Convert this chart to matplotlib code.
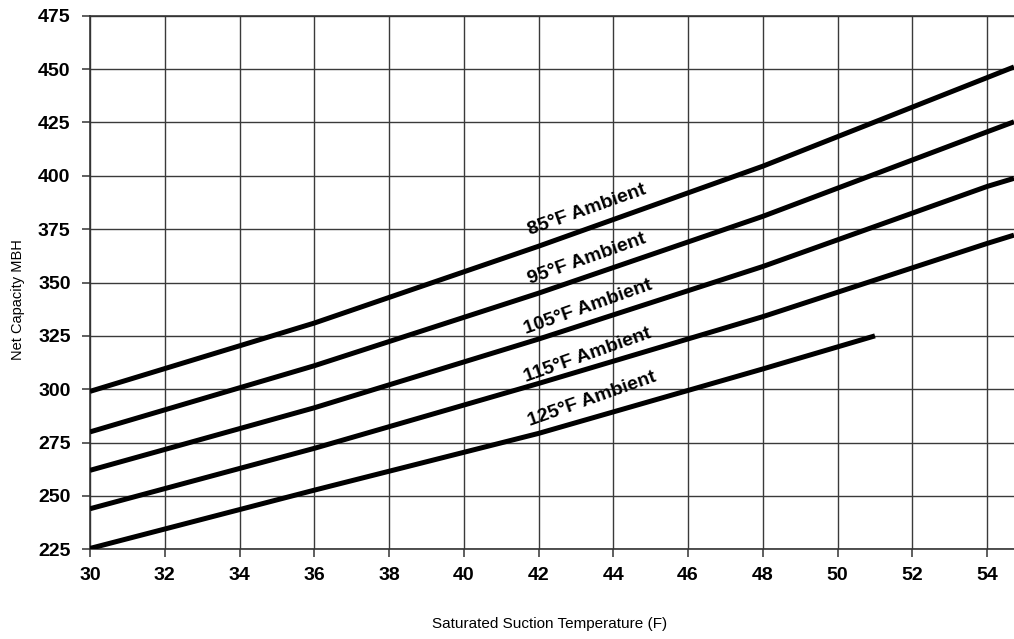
import matplotlib
matplotlib.use("Agg")
import matplotlib.pyplot as plt

plt.rcParams['font.family'] = ['Liberation Sans', 'DejaVu Sans']

# Data
x_full = [30, 36, 42, 48, 54, 54.72]
cap_85 = [299, 331, 367, 404.5, 446, 451]
cap_95 = [280, 311, 345, 381, 420.6, 425.3]
cap_105 = [262, 291.3, 323.5, 357.5, 395, 398.8]
cap_115 = [244, 272.3, 302.7, 334, 368.3, 372.2]
x_125 = [30, 36, 42, 48, 51]
cap_125 = [225.4, 252.7, 279.3, 309.5, 325]

labels = ["85°F Ambient", "95°F Ambient", "105°F Ambient", "115°F Ambient", "125°F Ambient"]
label_x = [43.29, 43.29, 43.32, 43.32, 43.42]
label_y = [383.9, 361.0, 338.5, 316.0, 295.4]

x_ticks = list(range(30, 55, 2))
y_ticks = list(range(225, 476, 25))

fig = plt.figure(figsize=(10.14, 6.39), dpi=100)
ax = fig.add_axes([0.0888, 0.1404, 0.9112, 0.835])

series = [(x_full, cap_85), (x_full, cap_95), (x_full, cap_105),
          (x_full, cap_115), (x_125, cap_125)]
for xs, ys in series:
    ax.plot(xs, ys, color='black', lw=3.6, solid_capstyle='butt',
            solid_joinstyle='round', zorder=3)

for t, lx, ly in zip(labels, label_x, label_y):
    ax.text(lx, ly, t, rotation=19.5, ha='center', va='center',
            fontsize=14, fontweight='bold', rotation_mode='anchor', zorder=4)

ax.set_xlim(30, 54.72)
ax.set_ylim(225, 475)
ax.set_xticks(x_ticks)
ax.set_yticks(y_ticks)
ax.set_xticklabels([str(v) for v in x_ticks], fontsize=14, fontweight='bold')
ax.set_yticklabels([str(v) for v in y_ticks], fontsize=14, fontweight='bold')
ax.tick_params(axis='both', direction='out', length=6, width=1.1, color='#333333')
ax.tick_params(axis='x', pad=7)
ax.tick_params(axis='y', pad=8)

ax.grid(True, color='#3a3a3a', lw=1.0)
ax.set_axisbelow(True)
ax.spines['right'].set_visible(False)
for s in ['left', 'bottom', 'top']:
    ax.spines[s].set_color('#333333')
    ax.spines[s].set_linewidth(1.2)

fig.text(0.5424, 0.0235, "Saturated Suction Temperature (F)", ha='center', va='center', fontsize=11)
fig.text(0.0178, 0.5305, "Net Capacity MBH", ha='center', va='center', rotation=90, fontsize=10.5)

fig.savefig("out.png", dpi=100)
